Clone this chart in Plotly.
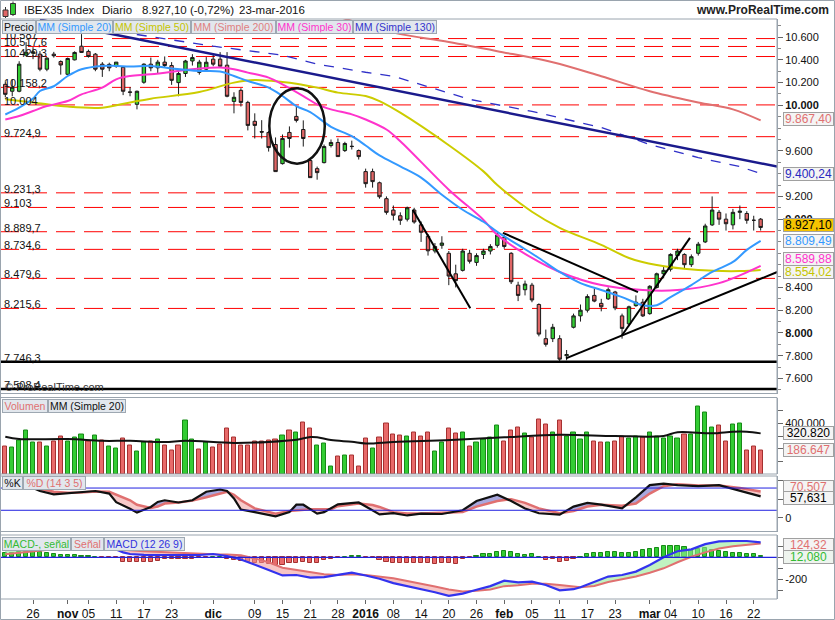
import plotly.graph_objects as go
import pandas as pd

FONT = 'Liberation Sans, Arial, sans-serif'
W, H = 835, 620

# ---------------- data ----------------
holidays = ['2015-12-25', '2016-01-01']
dates = [d.strftime('%Y-%m-%d') for d in pd.bdate_range('2015-10-20', '2016-03-23')
         if d.strftime('%Y-%m-%d') not in holidays]

tick_dates = ['2015-10-26', '2015-11-02', '2015-11-05', '2015-11-11', '2015-11-17', '2015-11-23',
              '2015-12-01', '2015-12-09', '2015-12-15', '2015-12-21', '2015-12-28', '2016-01-04',
              '2016-01-08', '2016-01-14', '2016-01-20', '2016-01-26', '2016-02-01', '2016-02-05',
              '2016-02-11', '2016-02-17', '2016-02-23', '2016-03-01', '2016-03-04', '2016-03-10',
              '2016-03-16', '2016-03-22']
tick_text = ['26', '<b>nov</b>', '05', '11', '17', '23', '<b>dic</b>', '09', '15', '21', '28', '<b>2016</b>',
             '08', '14', '20', '26', '<b>feb</b>', '05', '11', '17', '23', '<b>mar</b>', '04', '10', '16', '22']

opens = [10185, 10124, 10124, 10441, 10459, 10450, 10318, 10450, 10385, 10273,
         10400, 10520, 10474, 10450, 10362, 10360, 10345, 10335, 10118, 10009,
         10203, 10362, 10330, 10380, 10350, 10200, 10280, 10390, 10290, 10318,
         10406, 10406, 10353, 10035, 10132, 10026, 9860, 9770, 9762, 9656,
         9488, 9762, 9903, 9788, 9515, 9444, 9497, 9647, 9674, 9603,
         9638, 9603, 9418, 9418, 9320, 9180, 9080, 9030, 9000, 9080,
         8950, 8850, 8720, 8770, 8700, 8520, 8550, 8700, 8620, 8690,
         8720, 8770, 8840, 8700, 8420, 8380, 8420, 8250, 7950, 7950,
         7950, 7800, 8050, 8150, 8200, 8330, 8260, 8300, 8360, 8150,
         8080, 8240, 8270, 8170, 8400, 8520, 8560, 8680, 8690, 8600,
         8700, 8800, 8950, 9060, 9000, 8950, 9060, 9050, 8990, 9000]
highs = [10212, 10229, 10388, 10556, 10512, 10477, 10424, 10470, 10395, 10420,
         10475, 10626, 10490, 10460, 10380, 10375, 10380, 10345, 10160, 10130,
         10370, 10420, 10400, 10430, 10380, 10300, 10400, 10450, 10400, 10424,
         10450, 10468, 10468, 10115, 10150, 10040, 9930, 9870, 9775, 9718,
         9744, 9815, 9990, 9868, 9530, 9462, 9656, 9700, 9709, 9680,
         9690, 9612, 9444, 9444, 9330, 9200, 9120, 9060, 9110, 9100,
         8980, 8870, 8790, 8850, 8720, 8600, 8740, 8730, 8700, 8740,
         8780, 8880, 8860, 8710, 8450, 8460, 8440, 8260, 8030, 8080,
         7980, 7850, 8170, 8250, 8340, 8390, 8300, 8400, 8370, 8170,
         8240, 8330, 8300, 8420, 8530, 8580, 8700, 8740, 8700, 8690,
         8800, 8960, 9200, 9080, 9050, 9090, 9120, 9070, 9030, 9010]
lows = [10071, 10080, 10115, 10432, 10406, 10300, 10300, 10420, 10270, 10265,
        10395, 10460, 10420, 10300, 10250, 10300, 10330, 10090, 10080, 9965,
        10190, 10300, 10280, 10330, 10180, 10080, 10250, 10350, 10270, 10300,
        10344, 10330, 10071, 9930, 9990, 9780, 9709, 9709, 9594, 9418,
        9480, 9629, 9850, 9638, 9365, 9347, 9490, 9630, 9550, 9590,
        9612, 9524, 9277, 9277, 9180, 9040, 8990, 8950, 8980, 8960,
        8800, 8680, 8700, 8740, 8420, 8400, 8540, 8610, 8590, 8650,
        8690, 8750, 8740, 8430, 8280, 8330, 8270, 7970, 7880, 7920,
        7746, 7760, 8040, 8100, 8180, 8270, 8190, 8290, 8200, 7950,
        8060, 8230, 8140, 8160, 8390, 8480, 8540, 8640, 8570, 8580,
        8680, 8790, 8940, 8950, 8900, 8910, 9000, 8960, 8900, 8900]
closes = [10097, 10159, 10362, 10468, 10470, 10318, 10415, 10436, 10355, 10412,
          10465, 10465, 10430, 10318, 10318, 10330, 10380, 10124, 10115, 10124,
          10362, 10330, 10380, 10350, 10220, 10280, 10390, 10420, 10380, 10379,
          10362, 10344, 10080, 10071, 10026, 9824, 9824, 9765, 9629, 9418,
          9709, 9709, 9868, 9709, 9365, 9409, 9638, 9674, 9550, 9665,
          9640, 9550, 9312, 9330, 9197, 9060, 9035, 8990, 9100, 8975,
          8885, 8722, 8760, 8790, 8500, 8460, 8720, 8630, 8680, 8720,
          8760, 8860, 8760, 8450, 8330, 8430, 8290, 7990, 7900, 8050,
          7770, 7810, 8150, 8200, 8320, 8280, 8230, 8380, 8220, 8040,
          8230, 8270, 8150, 8410, 8520, 8550, 8690, 8720, 8600, 8670,
          8780, 8940, 9080, 9000, 8960, 9060, 9070, 8990, 8990, 8927.1]

volumes = [216000, 208000, 264000, 344000, 245000, 245000, 216000, 256000, 296000, 258000,
           285000, 309000, 256000, 301000, 264000, 216000, 205000, 277000, 229000, 176000,
           245000, 256000, 272000, 229000, 184000, 224000, 424000, 272000, 197000, 250000,
           208000, 232000, 357000, 285000, 224000, 224000, 253000, 253000, 264000, 272000,
           304000, 344000, 325000, 405000, 357000, 224000, 237000, 56000, 136000, 149000,
           144000, 56000, 277000, 205000, 285000, 397000, 309000, 304000, 296000, 330000,
           300000, 330000, 180000, 250000, 360000, 320000, 330000, 220000, 250000, 270000,
           290000, 380000, 260000, 340000, 370000, 320000, 290000, 430000, 390000, 330000,
           420000, 300000, 330000, 270000, 330000, 260000, 250000, 250000, 260000, 300000,
           280000, 300000, 290000, 330000, 300000, 280000, 300000, 280000, 314000, 314000,
           534000, 482000, 370000, 380000, 260000, 388000, 401000, 188000, 220000, 186647]
vol_up = [0, 1, 1, 1, 1, 0, 1, 0, 0, 1,
          1, 1, 0, 1, 0, 1, 1, 0, 0, 1,
          1, 0, 1, 0, 0, 0, 1, 1, 0, 1,
          0, 0, 0, 0, 0, 0, 0, 0, 0, 0,
          1, 0, 1, 0, 0, 1, 1, 1, 0, 1,
          0, 0, 0, 1, 0, 0, 0, 0, 1, 0,
          0, 0, 1, 1, 0, 0, 1, 0, 1, 1,
          1, 1, 0, 0, 0, 1, 0, 0, 0, 1,
          0, 1, 1, 1, 1, 0, 0, 1, 0, 0,
          1, 1, 0, 1, 1, 1, 1, 1, 0, 1,
          1, 1, 1, 0, 0, 1, 1, 0, 0, 0]

ma20_i = [0, 2, 4, 5, 7, 9, 11, 14, 16, 18, 21, 24, 28, 31, 33, 35, 38, 40, 42, 44, 47, 50, 52, 54, 57,
          60, 63, 66, 69, 71, 74, 77, 80, 83, 86, 89, 92, 94, 96, 99, 102, 105, 107, 109]
ma20_v = [9920, 9980, 10060, 10126, 10168, 10258, 10318, 10347, 10347, 10341, 10347, 10325, 10303, 10297,
          10258, 10214, 10156, 10082, 9994, 9941, 9812, 9729, 9647, 9560, 9464, 9365, 9215, 9083, 8977,
          8888, 8774, 8659, 8536, 8438, 8377, 8315, 8244, 8244, 8315, 8421, 8536, 8624, 8730, 8809.49]
ma50_i = [0, 4, 9, 14, 18, 21, 28, 33, 36, 40, 42, 45, 48, 52, 54, 57, 64, 69, 71, 76, 80, 86, 90, 94, 100, 106, 109]
ma50_v = [10053, 10026, 9989, 9980, 10026, 10059, 10117, 10200, 10223, 10206, 10191, 10156, 10112, 10082,
          10038, 9936, 9650, 9420, 9300, 9065, 8924, 8774, 8659, 8597, 8553, 8544, 8554.02]
ma30_i = [0, 2, 4, 6, 9, 11, 14, 16, 18, 21, 28, 31, 33, 35, 38, 40, 43, 45, 47, 50, 52, 55, 57, 64, 69, 71,
          76, 80, 86, 92, 97, 103, 109]
ma30_v = [9876, 9906, 9950, 9994, 10038, 10097, 10156, 10229, 10258, 10273, 10324, 10333, 10318, 10288,
          10244, 10185, 10082, 10009, 9965, 9921, 9876, 9788, 9685, 9259, 8994, 8862, 8659, 8536, 8421,
          8377, 8377, 8438, 8589.88]
ma200_i = [47, 54, 57, 64, 71, 79, 86, 93, 100, 105, 109]
ma200_v = [10800, 10670, 10626, 10556, 10476, 10379, 10256, 10124, 10026, 9965, 9867.40]
ma130_i = [0, 14, 30, 40, 45, 52, 56, 67, 76, 86, 93, 100, 106, 109]
ma130_v = [10800, 10670, 10520, 10441, 10362, 10291, 10256, 10053, 9947, 9806, 9656, 9541, 9462, 9400.24]

volma_i = [0, 2, 9, 14, 18, 23, 26, 33, 38, 42, 44, 45, 47, 50, 52, 56, 59, 65, 72, 80, 88, 95, 97, 102,
           105, 107, 109]
volma_v = [294000, 276000, 276000, 262000, 262000, 253000, 262000, 245000, 253000, 270000, 292000, 290000,
           268000, 254000, 241000, 253000, 258000, 270000, 290000, 310000, 300000, 300000, 330000, 321000,
           334000, 334000, 320820]

sto_i = [0, 2, 4, 5, 7, 9, 11, 13, 15, 16, 18, 19, 21, 22, 23, 25, 27, 29, 31, 32, 33, 34, 36, 39, 41, 42,
         43, 44, 45, 46, 47, 48, 51, 53, 54, 56, 58, 60, 63, 66, 68, 71, 73, 75, 77, 80, 82, 84, 86, 89,
         91, 93, 95, 97, 100, 103, 106, 109]
sto_k = [88, 90, 80, 72, 63, 66, 70, 72, 65, 42, 24, 13.6, 29, 42.5, 47, 41, 47, 70, 76, 72, 52, 22, 15, 3.5,
         15, 35, 35, 22, 11, 15, 26, 36, 41, 20, 9, 12.5, 6, 11, 10, 20, 45, 62, 45, 25, 12, 8, 30, 40, 35,
         25, 55, 88, 92, 88, 85, 88, 72, 57.631]
sto_d = [82, 86, 86, 78, 70, 67, 68, 71, 70, 62, 47, 35, 26, 30, 38, 41, 46, 55, 66, 70, 62, 47, 25, 11, 18,
         20, 22, 23, 22.6, 22.6, 23, 31, 38, 34, 29, 15, 11, 11, 12, 15, 30, 45, 50, 40, 25, 12, 18, 30, 35,
         32, 38, 65, 85, 90, 87, 87, 80, 70.507]

macd_i = [0, 2, 4, 6, 8, 10, 12, 14, 16, 17, 18, 20, 23, 26, 28, 30, 32, 34, 36, 38, 40, 42, 44, 46, 48, 50,
          52, 54, 56, 58, 60, 62, 64, 66, 68, 70, 72, 74, 76, 78, 80, 82, 83, 85, 87, 89, 91, 93, 95, 97,
          99, 101, 103, 105, 107, 109]
macd_v = [65, 90, 105, 105, 100, 100, 95, 78, 70, 45, 30, 22, 21, 21, 21, 30, 12, -20, -65, -115, -165, -161,
          -185, -180, -160, -140, -165, -195, -235, -262, -285, -318, -350, -330, -295, -262, -212, -228, -221,
          -252, -300, -290, -272, -225, -175, -161, -130, -70, 0, 55, 72, 120, 145, 148, 148, 136.4]
signal_v = [28, 40, 52, 68, 79, 80, 83, 85, 80, 72, 65, 55, 45, 36, 30, 27, 26, 18, -10, -45, -95, -115, -140,
            -155, -160, -155, -160, -175, -190, -215, -237, -265, -292, -310, -303, -292, -262, -255, -240,
            -240, -252, -268, -272, -260, -225, -200, -175, -140, -100, -45, 5, 45, 80, 100, 115, 124.32]
macd_hist = [36, 42, 52, 52, 52, 52, 36, 27, 21, 21, 21, 15, 12, 3, -9, -9, -9, -39, -45, -39,
             -39, -39, -33, -18, -18, -18, -18, -18, -9, -3, 2, 1, -18, -24, -30, -39, -48, -55, -61, -70,
             -70, -55, -48, -39, -48, -48, -24, -18, -9, 0, 15, 15, -9, -9, -24, -39, -55, -55, -55, -48,
             -48, -55, -61, -55, -55, -61, -18, -9, 12, 30, 30, 45, 55, 45, 30, 21, 30, 0, -24, -18,
             -45, -30, -18, 0, 30, 36, 36, 52, 52, 36, 36, 45, 67, 73, 88, 103, 103, 103, 91, 67,
             73, 82, 67, 61, 45, 42, 42, 30, 27, 12.08]

levels_red = [10587, 10517.6, 10429.3, 10158.2, 10004, 9724.9, 9231.3, 9103, 8889.7, 8734.6, 8479.6, 8215.6]
levels_red_txt = ['10.587', '10.517,6', '10.429,3', '10.158,2', '10.004', '9.724,9', '9.231,3', '9.103',
                  '8.889,7', '8.734,6', '8.479,6', '8.215,6']
levels_black = [7746.3, 7508.4]
levels_black_txt = ['7.746,3', '7.508,4']

# drawn trendlines: (bar position, price) pairs
trend_navy = [(5, 10753), (111.4, 9462)]
trend_black = [[(58.8, 9083), (67.1, 8218)],
               [(71.8, 8880), (91.3, 8359)],
               [(80.9, 7777), (111.4, 8536)],
               [(89.0, 7980), (98.8, 8835)]]
ellipse = [(38.1, 9488), (46.1, 10150)]

# ---------------- layout helpers ----------------
def px(x):
    return x / W


def py(y):
    return 1 - y / H


X = list(range(len(dates)))
XR = [-0.765, 111.36]
XDOM = [0, px(777)]

fig = go.Figure()

# ---- main panel ----
fig.add_trace(go.Scatter(x=ma130_i, y=ma130_v, mode='lines', line=dict(color='#3030c8', width=1.3, dash='10px,9px'),
                         yaxis='y', hoverinfo='skip'))
fig.add_trace(go.Scatter(x=ma200_i, y=ma200_v, mode='lines', line=dict(color='#e07070', width=2, shape='spline'),
                         yaxis='y', hoverinfo='skip'))
fig.add_trace(go.Scatter(x=ma50_i, y=ma50_v, mode='lines', line=dict(color='#cccc00', width=2, shape='spline'),
                         yaxis='y', hoverinfo='skip'))
fig.add_trace(go.Scatter(x=ma30_i, y=ma30_v, mode='lines', line=dict(color='#ff33cc', width=2, shape='spline'),
                         yaxis='y', hoverinfo='skip'))
fig.add_trace(go.Scatter(x=ma20_i, y=ma20_v, mode='lines', line=dict(color='#3399ff', width=2, shape='spline'),
                         yaxis='y', hoverinfo='skip'))
fig.add_trace(go.Candlestick(x=X, open=opens, high=highs, low=lows, close=closes,
                             increasing=dict(fillcolor='#33cc33', line=dict(color='#1a1a1a', width=1)),
                             decreasing=dict(fillcolor='#e06666', line=dict(color='#1a1a1a', width=1)),
                             whiskerwidth=0, yaxis='y', hoverinfo='skip'))

# ---- volume ----
fig.add_trace(go.Bar(x=X, y=volumes, width=0.6, yaxis='y2', hoverinfo='skip',
                     marker=dict(color=['#33cc33' if u else '#e86a6a' for u in vol_up],
                                 line=dict(color=['#178a17' if u else '#a53030' for u in vol_up], width=1))))
fig.add_trace(go.Scatter(x=volma_i, y=volma_v, mode='lines', line=dict(color='#111111', width=2, shape='spline'),
                         yaxis='y2', hoverinfo='skip'))


def crossing(xs, a, b):
    xo, ao, bo = [xs[0]], [a[0]], [b[0]]
    for k in range(1, len(xs)):
        d0, d1 = a[k - 1] - b[k - 1], a[k] - b[k]
        if d0 * d1 < 0:
            t = d0 / (d0 - d1)
            xo.append(xs[k - 1] + t * (xs[k] - xs[k - 1]))
            yc = a[k - 1] + t * (a[k] - a[k - 1])
            ao.append(yc)
            bo.append(yc)
        xo.append(xs[k])
        ao.append(a[k])
        bo.append(b[k])
    return xo, ao, bo


def band(xs, a, b, col_a_up, col_b_up, yax):
    xo, ao, bo = crossing(xs, a, b)
    hi = [max(u, v) for u, v in zip(ao, bo)]
    nl = dict(width=0)
    fig.add_trace(go.Scatter(x=xo, y=bo, mode='lines', line=nl, yaxis=yax, hoverinfo='skip'))
    fig.add_trace(go.Scatter(x=xo, y=hi, mode='lines', line=nl, fill='tonexty', fillcolor=col_a_up,
                             yaxis=yax, hoverinfo='skip'))
    fig.add_trace(go.Scatter(x=xo, y=ao, mode='lines', line=nl, yaxis=yax, hoverinfo='skip'))
    fig.add_trace(go.Scatter(x=xo, y=hi, mode='lines', line=nl, fill='tonexty', fillcolor=col_b_up,
                             yaxis=yax, hoverinfo='skip'))


# ---- stochastic ----
band(sto_i, sto_k, sto_d, 'rgba(110,110,200,0.6)', 'rgba(240,150,150,0.5)', 'y3')
fig.add_trace(go.Scatter(x=sto_i, y=sto_d, mode='lines', line=dict(color='#e07070', width=2.5), yaxis='y3',
                         hoverinfo='skip'))
fig.add_trace(go.Scatter(x=sto_i, y=sto_k, mode='lines', line=dict(color='#111111', width=2.2), yaxis='y3',
                         hoverinfo='skip'))

# ---- MACD ----
fig.add_trace(go.Bar(x=X, y=macd_hist, width=0.6, yaxis='y4', hoverinfo='skip',
                     marker=dict(color=['#33cc33' if v >= 0 else '#e86a6a' for v in macd_hist],
                                 line=dict(color=['#178a17' if v >= 0 else '#a53030' for v in macd_hist],
                                           width=1))))
band(macd_i, macd_v, signal_v, 'rgba(150,235,150,0.6)', 'rgba(240,150,150,0.55)', 'y4')
fig.add_trace(go.Scatter(x=macd_i, y=signal_v, mode='lines', line=dict(color='#e07070', width=2), yaxis='y4',
                         hoverinfo='skip'))
fig.add_trace(go.Scatter(x=macd_i, y=macd_v, mode='lines', line=dict(color='#3333ee', width=2.2), yaxis='y4',
                         hoverinfo='skip'))

# ---------------- shapes ----------------
shapes = []
for lv in levels_red:
    shapes.append(dict(type='line', xref='paper', yref='y', x0=0, x1=px(777), y0=lv, y1=lv, layer='below',
                       line=dict(color='#ff0000', width=1, dash='19px,9px')))
for lv in levels_black:
    shapes.append(dict(type='line', xref='paper', yref='y', x0=0, x1=px(777), y0=lv, y1=lv,
                       line=dict(color='#000000', width=2.5)))
(a0, b0), (a1, b1) = trend_navy
shapes.append(dict(type='line', xref='x', yref='y', x0=a0, y0=b0, x1=a1, y1=b1,
                   line=dict(color='#1a1a8c', width=2.5)))
for (p0, q0), (p1, q1) in trend_black:
    shapes.append(dict(type='line', xref='x', yref='y', x0=p0, y0=q0, x1=p1, y1=q1,
                       line=dict(color='#000000', width=2)))
(e0, f0), (e1, f1) = ellipse
shapes.append(dict(type='circle', xref='x', yref='y', x0=e0, y0=f0, x1=e1, y1=f1,
                   line=dict(color='#111111', width=2.5)))
for lv in (20, 80):
    shapes.append(dict(type='line', xref='paper', yref='y3', x0=0, x1=px(777), y0=lv, y1=lv,
                       line=dict(color='#2020e0', width=1)))
shapes.append(dict(type='line', xref='paper', yref='y4', x0=0, x1=px(777), y0=0, y1=0,
                   line=dict(color='#2020e0', width=1.3)))

FRAME = '#9aa4ae'
for (t, b) in [(19, 393.5), (397.5, 474), (476, 531.5), (535, 599)]:
    shapes.append(dict(type='rect', xref='paper', yref='paper', x0=px(0.5), x1=px(777), y0=py(b), y1=py(t),
                       line=dict(color=FRAME, width=1)))
shapes.append(dict(type='rect', xref='paper', yref='paper', x0=px(0.5), x1=px(834.5), y0=py(619.5), y1=py(0.5),
                   line=dict(color=FRAME, width=1)))
# header icon
shapes += [
    dict(type='line', xref='paper', yref='paper', x0=px(5.5), x1=px(5.5), y0=py(18), y1=py(7),
         line=dict(color='#333', width=1)),
    dict(type='rect', xref='paper', yref='paper', x0=px(3), x1=px(8), y0=py(16.5), y1=py(10),
         line=dict(color='#333', width=1), fillcolor='#e06666'),
    dict(type='line', xref='paper', yref='paper', x0=px(13), x1=px(13), y0=py(16), y1=py(1.5),
         line=dict(color='#333', width=1)),
    dict(type='rect', xref='paper', yref='paper', x0=px(10.5), x1=px(15.5), y0=py(14.5), y1=py(3.5),
         line=dict(color='#333', width=1), fillcolor='#33cc33'),
]

# ---------------- annotations ----------------
ann = []


def text(x, y, s, size=11, color='#111', xanchor='left', yanchor='middle', yref='paper', **kw):
    ann.append(dict(x=x, y=y, xref='paper', yref=yref, text=s, showarrow=False, xanchor=xanchor,
                    yanchor=yanchor, font=dict(family=FONT, size=size, color=color), **kw))


for lv, s in zip(levels_red + levels_black, levels_red_txt + levels_black_txt):
    text(px(3), lv, s, size=11, yref='y', yanchor='bottom', yshift=-3, borderpad=0)
text(px(3), py(387), '\u00a9 ProRealTime.com', size=11, color='#333')

text(px(22), py(10), 'IBEX35 Index', size=11.5, color='#111')
text(px(100), py(10), 'Diario', size=11.5, color='#111')
text(px(140), py(10), '8.927,10 (-0,72%)', size=11.5, color='#111')
text(px(237), py(10), '23-mar-2016', size=11.5, color='#111')
text(px(831), py(10), '<b>www.ProRealTime.com</b>', size=12, color='#222', xanchor='right')

LEG_BG, LEG_BD = '#e2e7ed', '#9ea8b2'


def legend_row(yc, items):
    for x0, wdt, s, col in items:
        ann.append(dict(x=px(x0), y=py(yc), xref='paper', yref='paper', text=s, showarrow=False,
                        xanchor='left', yanchor='middle', width=wdt, height=11, borderpad=0.5,
                        bgcolor=LEG_BG, bordercolor=LEG_BD, borderwidth=1,
                        font=dict(family=FONT, size=10.5, color=col)))


legend_row(27.5, [(2, 31, 'Precio', '#111'), (36, 74, 'MM (Simple 20)', '#3399ff'),
                  (113, 75, 'MM (Simple 50)', '#c4c400'), (191, 82, 'MM (Simple 200)', '#e08080'),
                  (276, 74, 'MM (Simple 30)', '#ff33cc'), (353, 81, 'MM (Simple 130)', '#3333cc')])
legend_row(406, [(2, 43, 'Volumen', '#e07070'), (48, 75, 'MM (Simple 20)', '#111')])
legend_row(483.5, [(2, 18, '%K', '#111'), (23, 60, '%D (14 3 5)', '#e07070')])
legend_row(544, [(2, 66, 'MACD-, se\u00f1al', '#33bb33'), (71, 30, 'Se\u00f1al', '#e07070'),
                 (104, 78, 'MACD (12 26 9)', '#3333dd')])


def tag(s, yref, v, col, bg='#f4f4f4', shift=0):
    ann.append(dict(x=px(782.5), y=v, xref='paper', yref=yref, text=s, showarrow=False, xanchor='left',
                    yanchor='middle', width=48, height=11, borderpad=0.5, bgcolor=bg, bordercolor='#a0a0a0',
                    borderwidth=1, yshift=shift, font=dict(family=FONT, size=12, color=col)))


tag('9.867,40', 'y', 9867.40, '#e07070', shift=1)
tag('9.400,24', 'y', 9400.24, '#2828c0')
tag('8.927,10', 'y', 8927.10, '#000000', bg='#f6c400', shift=2)
tag('8.809,49', 'y', 8809.49, '#3399ff')
tag('8.589,88', 'y', 8589.88, '#ff33cc', shift=7)
tag('8.554,02', 'y', 8554.02, '#c4c400', shift=-2)
tag('320.820', 'y2', 320820, '#000000')
tag('186.647', 'y2', 186647, '#e07070')
tag('70,507', 'y3', 70.507, '#e07070', shift=5)
tag('57,631', 'y3', 57.631, '#000000', shift=-2)
tag('124,32', 'y4', 124.32, '#e07070', shift=-1)
tag('12,080', 'y4', 12.08, '#33bb33', bg='#eef4ee', shift=-1)

# ---------------- axes ----------------
TICKF = dict(family=FONT, size=11, color='#111')


def yax(dom, rng, tv, tt, minor=None):
    d = dict(domain=dom, range=rng, side='right', anchor='x', showgrid=False, zeroline=False,
             ticks='outside', ticklen=5, tickcolor='#666', tickfont=TICKF, tickvals=tv, ticktext=tt,
             showline=True, linecolor=FRAME, fixedrange=True)
    if minor:
        d['minor'] = dict(tickvals=minor, ticks='outside', ticklen=3, tickcolor='#888')
    return d


# labels hidden behind value tags in the reference are left blank
main_tv = list(range(7600, 10601, 200))
main_tt = ['7.600', '7.800', '<b>8.000</b>', '8.200', '8.400', '', '', '<b>9.000</b>', '9.200',
           '', '9.600', '', '<b>10.000</b>', '10.200', '10.400', '10.600']

fig.update_layout(
    width=W, height=H, margin=dict(l=0, r=0, t=0, b=0), showlegend=False,
    paper_bgcolor='white', plot_bgcolor='white', barmode='overlay', bargap=0,
    xaxis=dict(domain=XDOM, range=XR, anchor='y4', showgrid=False, zeroline=False, ticks='outside',
               ticklen=4, tickcolor='#666', tickvals=[dates.index(d) for d in tick_dates], ticktext=tick_text,
               tickfont=dict(family=FONT, size=12, color='#111'), showline=False, fixedrange=True,
               rangeslider=dict(visible=False)),
    yaxis=yax([py(393.5), py(19)], [7468, 10759], main_tv, main_tt, minor=list(range(7500, 10800, 100))),
    yaxis2=yax([py(474), py(397.5)], [0, 604000], [100000, 200000, 300000, 400000, 500000],
               ['', '', '', '400.000', '']),
    yaxis3=yax([py(531.5), py(476)], [-37.3, 112.5], [0, 50, 100], ['0', '', '']),
    yaxis4=yax([py(599), py(535)], [-379, 202.7], [-300, -200, -100, 0, 100], ['', '-200', '', '', '']),
    shapes=shapes, annotations=ann,
)

fig.write_html('out.html', config={'displayModeBar': False})
